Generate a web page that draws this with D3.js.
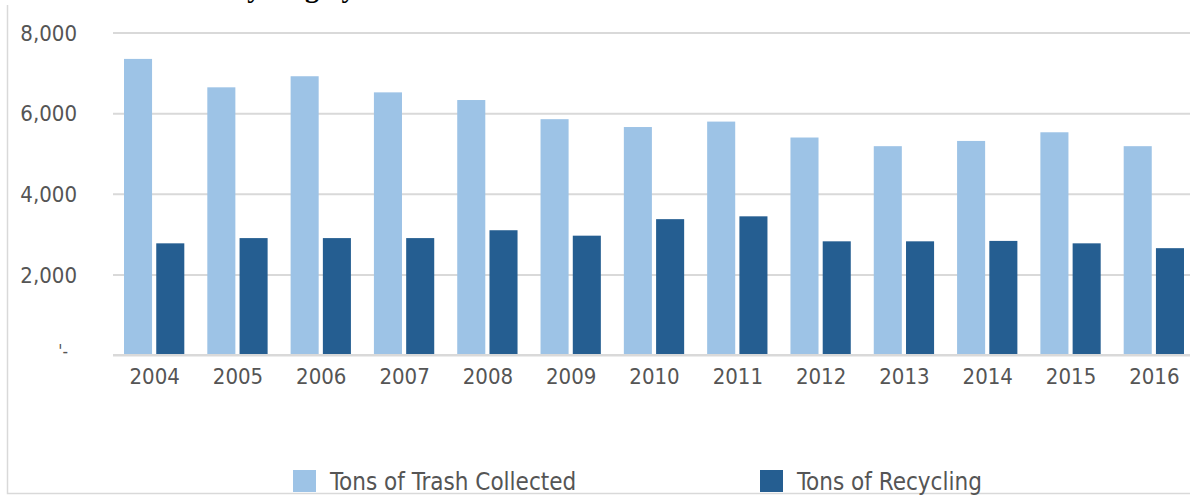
<!DOCTYPE html>
<html>
<head>
    <meta charset="UTF-8">
    <title>Tons of Trash Collected and Tons of Recycling</title>
    <script src="https://d3js.org/d3.v7.min.js"></script>
    <style>
        body { margin: 0; background: #fff; }
        .tick text { font-family: "DejaVu Sans Condensed", "DejaVu Sans", sans-serif; fill: #555; }
        .legend text { font-family: "DejaVu Sans Condensed", "DejaVu Sans", sans-serif; fill: #555; font-size: 24px; }
        .title { font-family: "Liberation Serif", "DejaVu Serif", serif; font-weight: bold; font-size: 28px; fill: #000; }
    </style>
</head>
<body>
<div id="chart"></div>
<script>
    // data
    const years = ["2004", "2005", "2006", "2007", "2008", "2009", "2010",
                   "2011", "2012", "2013", "2014", "2015", "2016"];
    const trash = [7345, 6640, 6915, 6515, 6325, 5850, 5655, 5790, 5395, 5180, 5310, 5525, 5180];
    const recycling = [2770, 2900, 2900, 2900, 3095, 2960, 3370, 3440, 2820, 2820, 2830, 2770, 2650];
    const seriesNames = ["Tons of Trash Collected", "Tons of Recycling"];
    const seriesColors = ["#9dc3e6", "#255e91"];
    const yTicks = [0, 2000, 4000, 6000, 8000];

    const width = 1190, height = 496;
    const margin = { top: 32.5, bottom: 141, left: 113, right: -6 };
    const plotW = width - margin.left - margin.right;
    const plotH = height - margin.top - margin.bottom;

    const svg = d3.select("#chart").append("svg")
        .attr("width", width)
        .attr("height", height)
        .style("display", "block");

    // caption of the page above, cut off at the top edge
    svg.append("text")
        .attr("class", "title")
        .attr("x", -42)
        .attr("y", -3)
        .text("Figure 9: Trash and Recycling by Year");

    // outer frame (left + bottom edges visible)
    svg.append("path")
        .attr("d", `M7.5,5V493.5H${width}`)
        .attr("fill", "none")
        .attr("stroke", "#d9d9d9")
        .attr("stroke-width", 1.5);

    const g = svg.append("g").attr("transform", `translate(${margin.left},${margin.top})`);

    const x0 = d3.scaleBand().domain(years).range([0, plotW]).paddingInner(0).paddingOuter(0);
    const x1 = d3.scaleBand().domain([0, 1]).range([11, x0.bandwidth() - 12]).paddingInner(0.13);
    const y = d3.scaleLinear().domain([0, 8000]).range([plotH, 0]);

    // gridlines
    g.append("g")
        .call(d3.axisLeft(y).tickValues(yTicks).tickSize(-plotW).tickFormat(""))
        .call(s => s.select(".domain").remove())
        .call(s => s.selectAll(".tick line").attr("stroke", "#d9d9d9").attr("stroke-width", 2));

    // y labels
    g.append("g")
        .attr("transform", "translate(-33,0)")
        .call(d3.axisLeft(y).tickValues(yTicks).tickSize(0)
            .tickFormat(d => d === 0 ? "'-" : d3.format(",")(d)))
        .call(s => s.select(".domain").remove())
        .call(s => s.selectAll(".tick text").attr("font-size", 22).attr("dy", "0.35em"))
        .call(s => s.selectAll(".tick").filter(d => d === 0).select("text")
            .attr("font-size", 17).attr("x", -12).attr("dy", "0.1em"));

    // bars
    const rows = years.map((yr, i) => ({ year: yr, vals: [trash[i], recycling[i]] }));
    const groups = g.selectAll(".grp").data(rows).join("g")
        .attr("class", "grp")
        .attr("transform", d => `translate(${x0(d.year)},0)`);
    groups.selectAll("rect")
        .data(d => d.vals.map((v, k) => ({ k, v })))
        .join("rect")
        .attr("x", d => x1(d.k))
        .attr("width", x1.bandwidth())
        .attr("y", d => y(d.v))
        .attr("height", d => plotH - y(d.v))
        .attr("fill", d => seriesColors[d.k]);

    // baseline
    g.append("line")
        .attr("x1", 0).attr("x2", plotW)
        .attr("y1", plotH).attr("y2", plotH)
        .attr("stroke", "#d9d9d9").attr("stroke-width", 2);

    // x axis labels
    g.append("g")
        .attr("transform", `translate(0,${plotH})`)
        .call(d3.axisBottom(x0).tickSize(0).tickPadding(13))
        .call(s => s.select(".domain").remove())
        .call(s => s.selectAll(".tick text").attr("font-size", 22));

    // legend
    const legendX = [293, 760];
    const legend = svg.append("g").attr("class", "legend");
    const items = legend.selectAll("g").data(seriesNames).join("g")
        .attr("transform", (d, i) => `translate(${legendX[i]},470)`);
    items.append("rect")
        .attr("width", 23).attr("height", 22)
        .attr("fill", (d, i) => seriesColors[i]);
    items.append("text")
        .attr("x", 37).attr("y", 20)
        .text(d => d);
</script>
</body>
</html>
